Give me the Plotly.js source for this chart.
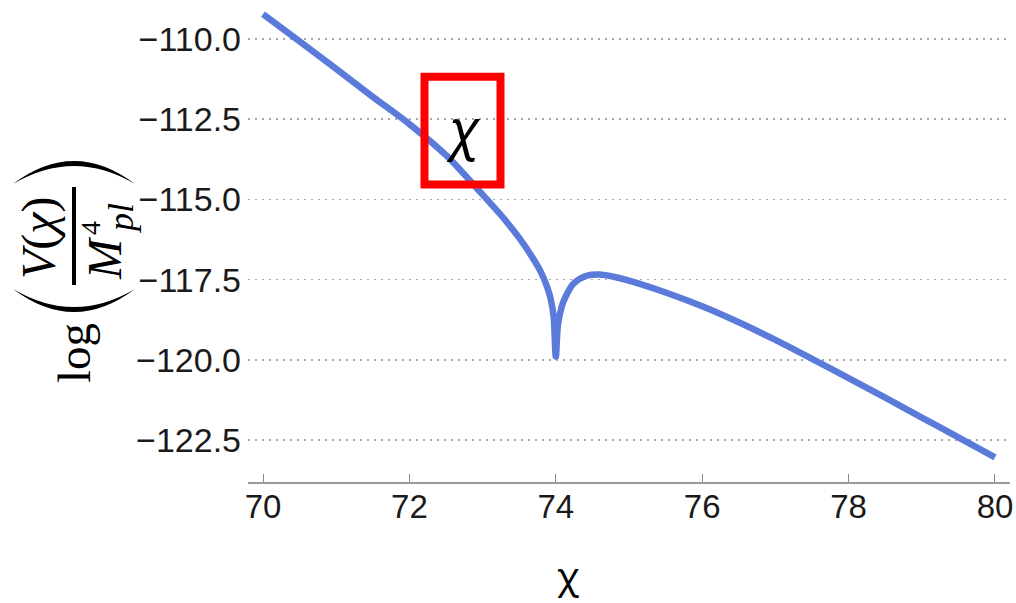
<!DOCTYPE html>
<html>
<head>
<meta charset="utf-8">
<script src="https://cdn.plot.ly/plotly-3.0.1.min.js"></script>
<style>
  html, body { margin: 0; padding: 0; background: #ffffff; }
  #chart { width: 1016px; height: 603px; }
</style>
</head>
<body>
<div id="chart"></div>
<script>
// ---- data ----
const chiValues = [70, 70.5, 71, 71.5, 72, 72.5, 73, 73.3, 73.5, 73.7, 73.8, 73.88, 73.93, 73.97, 74.0,
                   74.03, 74.08, 74.13, 74.24, 74.42, 74.6, 74.79, 75.0, 75.5, 76, 76.5, 77, 77.5,
                   78, 78.5, 79, 79.5, 80];
const logVValues = [-109.22, -110.07, -110.93, -111.8, -112.65, -113.62, -114.85, -115.62, -116.2, -116.88,
                    -117.28, -117.72, -118.1, -118.65, -119.9,
                    -118.9, -118.35, -118.05, -117.63, -117.38, -117.34, -117.41, -117.53, -117.9,
                    -118.33, -118.83, -119.38, -119.97, -120.57, -121.18, -121.8, -122.42, -123.04];
const xTickValues = [70, 72, 74, 76, 78, 80];
const yTickValues = [-110, -112.5, -115, -117.5, -120, -122.5];
const xTitle = "χ";
const boxLabel = "χ";

// ---- layout helpers (pixel -> paper) ----
const L = 248, T = 8, W = 762, H = 474;
const fx = px => (px - L) / W;
const fy = py => 1 - (py - T) / H;
const P = (px, py) => fx(px).toFixed(5) + "," + fy(py).toFixed(5);

const trace = {
  x: chiValues,
  y: logVValues,
  type: "scatter",
  mode: "lines",
  line: { color: "#5b7bdb", width: 6.5, shape: "spline", smoothing: 0.8 },
  hoverinfo: "x+y"
};

const serif = "Liberation Serif, Times New Roman, serif";

function arcPath(x0, x1, yEnd, yOuter, yInner) {
  const xm = (x0 + x1) / 2;
  const cOut = (4 * yOuter - 2 * yEnd) / 2;
  const cIn = (4 * yInner - 2 * yEnd) / 2;
  return "M" + P(x0, yEnd) + " Q" + P(xm, cOut) + " " + P(x1, yEnd) +
         " Q" + P(xm, cIn) + " " + P(x0, yEnd) + " Z";
}

const layout = {
  width: 1016, height: 603,
  margin: { l: L, r: 1016 - L - W, t: T, b: 603 - T - H, pad: 0 },
  paper_bgcolor: "#ffffff",
  plot_bgcolor: "#ffffff",
  showlegend: false,
  font: { family: "Liberation Sans, Arial, sans-serif", color: "#1a1a1a" },
  xaxis: {
    range: [69.795, 80.205],
    tickvals: xTickValues,
    ticktext: xTickValues.map(String),
    ticks: "inside", ticklen: 8, tickwidth: 1, tickcolor: "#888888",
    showline: true, linecolor: "#999999", linewidth: 1.5,
    showgrid: false, zeroline: false,
    tickfont: { size: 33, color: "#1a1a1a" },
    ticklabelstandoff: -5
  },
  yaxis: {
    range: [-123.81, -109.03],
    tickvals: yTickValues,
    ticktext: yTickValues.map(v => "\u2212" + Math.abs(v).toFixed(1)),
    ticks: "", showline: false, zeroline: false,
    showgrid: true, gridcolor: "#a8a8a8", gridwidth: 1.6, griddash: "2px,5px",
    tickfont: { size: 34, color: "#1a1a1a" },
    ticklabelstandoff: 6
  },
  shapes: [
    // red highlight box
    { type: "rect", xref: "paper", yref: "paper",
      x0: fx(424.5), x1: fx(500.5), y0: fy(184.5), y1: fy(76.7),
      line: { color: "#ff0000", width: 8 }, layer: "above" },
    // fraction bar of the y label
    { type: "line", xref: "paper", yref: "paper",
      x0: fx(74), x1: fx(74), y0: fy(187), y1: fy(285),
      line: { color: "#000000", width: 4 } },
    // big parentheses of the y label (rotated)
    { type: "path", xref: "paper", yref: "paper",
      path: arcPath(13, 135, 184, 161, 166), fillcolor: "#000000", line: { width: 0 } },
    { type: "path", xref: "paper", yref: "paper",
      path: arcPath(13, 135, 289, 312, 307), fillcolor: "#000000", line: { width: 0 } }
  ],
  annotations: [
    { text: boxLabel, xref: "paper", yref: "paper", x: fx(463), y: fy(128),
      xanchor: "center", yanchor: "middle", showarrow: false,
      font: { family: "Noto Sans, sans-serif", size: 54, color: "#000000", style: "italic" } },
    { text: xTitle, xref: "paper", yref: "paper", x: fx(568), y: fy(574),
      xanchor: "center", yanchor: "middle", showarrow: false,
      font: { family: "Noto Sans, sans-serif", size: 37, color: "#000000" } },
    // y label: log( V(χ) / M_pl^4 ), rotated
    { text: "log", xref: "paper", yref: "paper", x: fx(74), y: fy(353), textangle: -90,
      xanchor: "center", yanchor: "middle", showarrow: false,
      font: { family: serif, size: 47, color: "#000000" } },
    { text: "<i>V</i>(<i>χ</i>)", xref: "paper", yref: "paper", x: fx(39), y: fy(238), textangle: -90,
      xanchor: "center", yanchor: "middle", showarrow: false,
      font: { family: serif, size: 48, color: "#000000" } },
    { text: "<i>M</i>", xref: "paper", yref: "paper", x: fx(104), y: fy(258), textangle: -90,
      xanchor: "center", yanchor: "middle", showarrow: false,
      font: { family: serif, size: 48, color: "#000000" } },
    { text: "<i>pl</i>", xref: "paper", yref: "paper", x: fx(121), y: fy(219), textangle: -90,
      xanchor: "center", yanchor: "middle", showarrow: false,
      font: { family: serif, size: 36, color: "#000000" } },
    { text: "4", xref: "paper", yref: "paper", x: fx(90), y: fy(228), textangle: -90,
      xanchor: "center", yanchor: "middle", showarrow: false,
      font: { family: serif, size: 28, color: "#000000" } }
  ]
};

Plotly.newPlot("chart", [trace], layout, { displayModeBar: false, staticPlot: true });
</script>
</body>
</html>
